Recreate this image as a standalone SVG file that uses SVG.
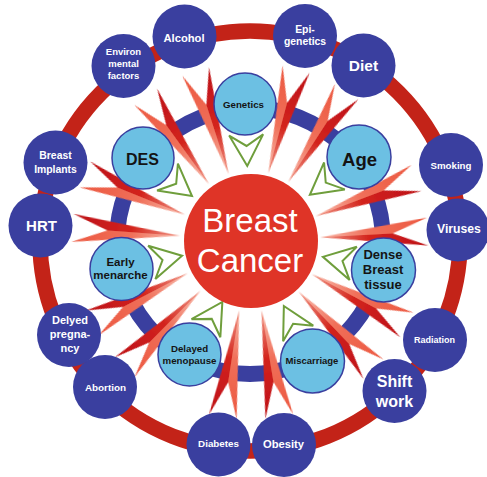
<svg xmlns="http://www.w3.org/2000/svg" xmlns:xlink="http://www.w3.org/1999/xlink" width="487" height="477" viewBox="0 0 487 477">
  <style>
    .lbl { font-family: "Liberation Sans", Arial, Helvetica, sans-serif; font-weight: bold; text-anchor: middle; }
    .outer circle { fill: #3a3f9f; }
    .outer text { fill: #ffffff; }
    .inner circle { fill: #6cc0e3; stroke: #3a3f9f; stroke-width: 1.5; }
    .inner text { fill: #141414; }
    .arrow { fill: #ffffff; stroke: #6f9e3c; stroke-width: 2; stroke-linejoin: miter; }
  </style>
  <defs>
    <!-- two-tone spike, drawn with the hub at the origin and the source node on the -x side -->
    <linearGradient id="spikeDark" gradientUnits="userSpaceOnUse" x1="-178" y1="0" x2="-70" y2="0">
      <stop offset="0" stop-color="#bd1118"/>
      <stop offset="0.55" stop-color="#d3241d"/>
      <stop offset="1" stop-color="#f29a88"/>
    </linearGradient>
    <linearGradient id="spikeLight" gradientUnits="userSpaceOnUse" x1="-178" y1="0" x2="-70" y2="0">
      <stop offset="0" stop-color="#ec5840"/>
      <stop offset="0.55" stop-color="#f0705a"/>
      <stop offset="1" stop-color="#f8bcae"/>
    </linearGradient>
    <filter id="soft" x="-10%" y="-30%" width="120%" height="160%">
      <feGaussianBlur stdDeviation="0.7"/>
    </filter>
    <g id="spike" filter="url(#soft)">
      <path d="M-178,-14 L-70,0 L-143,0 Z" fill="url(#spikeDark)"/>
      <path d="M-178,14 L-70,0 L-143,0 Z" fill="url(#spikeLight)"/>
    </g>
    <!-- hollow notched arrowhead, node at the origin, pointing along +x -->
    <path id="arrowhead" class="arrow" d="M31,-17 L62,0 L31,17 L42,0 Z"/>
  </defs>

  <rect width="487" height="477" fill="#ffffff"/>

  <!-- rings -->
  <circle cx="250" cy="241" r="210" fill="none" stroke="#c32318" stroke-width="15.5"/>
  <circle cx="250" cy="241" r="133" fill="none" stroke="#3a3f9f" stroke-width="16"/>

  <g id="connectors">
    <!-- spikes from outer factors towards the hub -->
    <use xlink:href="#spike" transform="translate(250 241) rotate(72.24)"/>
    <use xlink:href="#spike" transform="translate(250 241) rotate(54.14)"/>
    <use xlink:href="#spike" transform="translate(250 241) rotate(105.02)"/>
    <use xlink:href="#spike" transform="translate(250 241) rotate(122.9)"/>
    <use xlink:href="#spike" transform="translate(250 241) rotate(159.29)"/>
    <use xlink:href="#spike" transform="translate(250 241) rotate(176.97)"/>
    <use xlink:href="#spike" transform="translate(250 241) rotate(208.15)"/>
    <use xlink:href="#spike" transform="translate(250 241) rotate(226.07)"/>
    <use xlink:href="#spike" transform="translate(250 241) rotate(260.54)"/>
    <use xlink:href="#spike" transform="translate(250 241) rotate(278.8)"/>
    <use xlink:href="#spike" transform="translate(250 241) rotate(314.8)"/>
    <use xlink:href="#spike" transform="translate(250 241) rotate(332.56)"/>
    <use xlink:href="#spike" transform="translate(250 241) rotate(4.23)"/>
    <use xlink:href="#spike" transform="translate(250 241) rotate(21.97)"/>
    <!-- arrowheads from inner factors -->
    <use xlink:href="#arrowhead" transform="translate(245 104) rotate(87.91)"/>
    <use xlink:href="#arrowhead" transform="translate(143 158) rotate(37.8)"/>
    <use xlink:href="#arrowhead" transform="translate(359 157) rotate(142.38)"/>
    <use xlink:href="#arrowhead" transform="translate(121.5 269) rotate(-12.29)"/>
    <use xlink:href="#arrowhead" transform="translate(383.5 270) rotate(-167.74)"/>
    <use xlink:href="#arrowhead" transform="translate(189.5 354.5) rotate(-58)"/>
    <use xlink:href="#arrowhead" transform="translate(312.5 361) rotate(-117.51)"/>
  </g>

  <!-- inner factors -->
  <g id="genetics" class="inner lbl"><circle cx="245" cy="104" r="31"/><text x="243.5" y="108" font-size="9.7">Genetics</text></g>
  <g id="des" class="inner lbl"><circle cx="143" cy="158" r="31"/><text x="142.5" y="165" font-size="16">DES</text></g>
  <g id="age" class="inner lbl"><circle cx="359" cy="157" r="32"/><text x="359.5" y="166" font-size="18.5">Age</text></g>
  <g id="early-menarche" class="inner lbl"><circle cx="121.5" cy="269" r="31.5"/><text x="120.5" y="266" font-size="11.5">Early</text><text x="120.5" y="278.5" font-size="11.5">menarche</text></g>
  <g id="dense-breast-tissue" class="inner lbl"><circle cx="383.5" cy="270" r="32"/><text x="383" y="259" font-size="13">Dense</text><text x="383" y="274" font-size="13">Breast</text><text x="383" y="289" font-size="13">tissue</text></g>
  <g id="delayed-menopause" class="inner lbl"><circle cx="189.5" cy="354.5" r="31.5"/><text x="189.5" y="352" font-size="9.7">Delayed</text><text x="189.5" y="363.5" font-size="9.7">menopause</text></g>
  <g id="miscarriage" class="inner lbl"><circle cx="312.5" cy="361" r="32"/><text x="312" y="364" font-size="9.5">Miscarriage</text></g>

  <!-- outer factors -->
  <g id="alcohol" class="outer lbl"><circle cx="184.5" cy="36.5" r="32"/><text x="184" y="42" font-size="11.2">Alcohol</text></g>
  <g id="environmental-factors" class="outer lbl"><circle cx="123.5" cy="66" r="32"/><text x="123.5" y="55" font-size="9.5">Environ</text><text x="123.5" y="67" font-size="9.5">mental</text><text x="123.5" y="79" font-size="9.5">factors</text></g>
  <g id="epigenetics" class="outer lbl"><circle cx="305" cy="36" r="32"/><text x="305" y="33" font-size="10.4">Epi-</text><text x="305" y="45" font-size="10.4">genetics</text></g>
  <g id="diet" class="outer lbl"><circle cx="363.5" cy="65.5" r="32"/><text x="363.5" y="71" font-size="15.5">Diet</text></g>
  <g id="smoking" class="outer lbl"><circle cx="451" cy="165" r="32"/><text x="451" y="169" font-size="9.7">Smoking</text></g>
  <g id="viruses" class="outer lbl"><circle cx="458" cy="230" r="31.5"/><text x="459" y="233" font-size="12.2">Viruses</text></g>
  <g id="radiation" class="outer lbl"><circle cx="435" cy="340" r="32"/><text x="434.5" y="343" font-size="9">Radiation</text></g>
  <g id="shift-work" class="outer lbl"><circle cx="394.5" cy="391" r="32"/><text x="394.5" y="387" font-size="16">Shift</text><text x="394.5" y="407" font-size="16">work</text></g>
  <g id="obesity" class="outer lbl"><circle cx="284" cy="445" r="32"/><text x="283.5" y="448" font-size="11.2">Obesity</text></g>
  <g id="diabetes" class="outer lbl"><circle cx="218.5" cy="444.5" r="32"/><text x="218.5" y="447" font-size="9.8">Diabetes</text></g>
  <g id="abortion" class="outer lbl"><circle cx="105" cy="387" r="32"/><text x="105.5" y="391" font-size="9.9">Abortion</text></g>
  <g id="delayed-pregnancy" class="outer lbl"><circle cx="69" cy="335" r="32"/><text x="70" y="324" font-size="11">Delyed</text><text x="70" y="338" font-size="11">pregna-</text><text x="70" y="352" font-size="11">ncy</text></g>
  <g id="hrt" class="outer lbl"><circle cx="40.5" cy="225.5" r="32"/><text x="41.5" y="231" font-size="15">HRT</text></g>
  <g id="breast-implants" class="outer lbl"><circle cx="55.5" cy="162.5" r="32"/><text x="55.5" y="159" font-size="10.4">Breast</text><text x="55.5" y="173" font-size="10.4">Implants</text></g>

  <!-- hub -->
  <g id="breast-cancer">
    <circle cx="251" cy="241" r="67" fill="#df3427"/>
    <text x="250" y="232" font-family="'Liberation Sans', Arial, Helvetica, sans-serif" font-size="33" fill="#ffffff" text-anchor="middle">Breast</text>
    <text x="250" y="272" font-family="'Liberation Sans', Arial, Helvetica, sans-serif" font-size="33" fill="#ffffff" text-anchor="middle">Cancer</text>
  </g>
</svg>
